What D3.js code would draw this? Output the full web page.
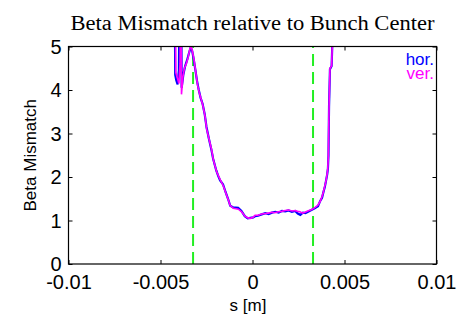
<!DOCTYPE html>
<html><head><meta charset="utf-8">
<script src="https://cdn.jsdelivr.net/npm/d3@7"></script>
<style>body{margin:0;background:#fff}svg{display:block}</style>
</head><body>
<svg id="c" width="469" height="321"></svg>
<script>
const title = "Beta Mismatch relative to Bunch Center";
const xLabel = "s [m]";
const yLabel = "Beta Mismatch";
const xTicks = [-0.01, -0.005, 0, 0.005, 0.01];
const xTickLabels = ["-0.01", "-0.005", "0", "0.005", "0.01"];
const yTicks = [0, 1, 2, 3, 4, 5];
const seriesNames = ["hor.", "ver."];
const markerPositions = [-0.00323, 0.00329];

const horS = [-0.00424,-0.00420,-0.00414,-0.00407,-0.00400,-0.00395,-0.00388,-0.00385,-0.00376,-0.00366,-0.00356,-0.00345,-0.00336,-0.00328,-0.00320,-0.00310,-0.00302,-0.00292,-0.00282,-0.00271,-0.00260,-0.00250,-0.00237,-0.00224,-0.00214,-0.00197,-0.00186,-0.00176,-0.00160,-0.00146,-0.00133,-0.00121,-0.00105,-0.00078,-0.00060,-0.00042,-0.00026,-0.00012,0.00004,0.00015,0.0003,0.0005,0.0007,0.00088,0.00106,0.00124,0.00142,0.0016,0.00178,0.00196,0.00214,0.00232,0.00246,0.0026,0.00274,0.00288,0.00302,0.0032,0.00338,0.00356,0.00368,0.00378,0.00386,0.00393,0.00399,0.00406,0.0041,0.00413,0.00416,0.00421,0.0043,0.00435,0.0044];
const horB = [7,4.35,4.22,4.13,4.45,7,7,4.05,4.35,4.55,4.68,4.85,4.98,4.9,4.72,4.45,4.22,4.0,3.82,3.68,3.45,3.15,2.88,2.64,2.42,2.15,2.02,1.92,1.83,1.65,1.5,1.34,1.3,1.29,1.22,1.1,1.05,1.06,1.07,1.1,1.11,1.14,1.17,1.15,1.18,1.2,1.18,1.22,1.21,1.23,1.2,1.22,1.16,1.13,1.18,1.17,1.2,1.24,1.28,1.33,1.45,1.52,1.66,1.77,1.9,2.06,2.2,2.5,3.62,4.48,4.55,5.2,7];

const verS = [-0.00422,-0.00417,-0.00410,-0.00400,-0.00394,-0.00389,-0.00386,-0.00378,-0.00370,-0.00360,-0.00350,-0.00340,-0.00332,-0.00325,-0.00318,-0.00308,-0.00300,-0.00290,-0.00280,-0.00270,-0.00258,-0.00249,-0.00235,-0.00222,-0.00213,-0.00195,-0.00177,-0.00159,-0.00144,-0.00132,-0.00122,-0.00104,-0.00090,-0.00077,-0.00059,-0.00041,-0.00025,-0.00010,0.00005,0.00014,0.00030,0.00050,0.00070,0.00086,0.00105,0.00122,0.00140,0.00159,0.00178,0.00195,0.00215,0.00231,0.00245,0.00258,0.00272,0.00285,0.00300,0.00322,0.00340,0.00355,0.00367,0.00378,0.00385,0.00392,0.00398,0.00405,0.00409,0.00412,0.00416,0.00421,0.0043,0.00434,0.0044];
const verB = [7,4.4,4.3,4.15,4.6,7,3.9,4.3,4.5,4.6,4.75,4.95,5.0,4.85,4.7,4.4,4.15,3.95,3.8,3.65,3.4,3.1,2.85,2.62,2.4,2.12,1.95,1.8,1.62,1.48,1.35,1.28,1.27,1.26,1.2,1.1,1.06,1.05,1.08,1.12,1.12,1.15,1.16,1.17,1.19,1.18,1.2,1.21,1.23,1.24,1.22,1.23,1.21,1.2,1.17,1.19,1.22,1.25,1.3,1.35,1.43,1.55,1.65,1.78,1.88,2.05,2.18,2.45,3.62,4.5,4.55,5.1,7];

const L = 68.5, R = 436.5, T = 46.5, B = 264;
const svg = d3.select("#c");
const x = d3.scaleLinear().domain([-0.01, 0.01]).range([L, R]);
const y = d3.scaleLinear().domain([0, 5]).range([B, T]);

svg.append("defs").append("clipPath").attr("id","clip")
  .append("rect").attr("x",L).attr("y",T).attr("width",R-L).attr("height",B-T);

svg.append("text").attr("x",(L+R)/2).attr("y",30).attr("text-anchor","middle")
  .attr("font-family","Liberation Serif, Times New Roman, serif").attr("font-size",20)
  .attr("textLength",364).attr("lengthAdjust","spacingAndGlyphs")
  .attr("fill","#000").text(title);

const g = svg.append("g").attr("clip-path","url(#clip)");
const line = d3.line().x(d=>x(d[0])).y(d=>y(d[1]));

markerPositions.forEach(m=>{
  g.append("line").attr("x1",x(m)).attr("x2",x(m)).attr("y1",y(0)).attr("y2",y(5))
   .attr("stroke","#22ee22").attr("stroke-width",2).attr("stroke-dasharray","12,6");
});

g.append("path").datum(d3.zip(horS,horB)).attr("d",line)
 .attr("fill","none").attr("stroke","#0000ff").attr("stroke-width",2.2);
g.append("path").datum(d3.zip(verS,verB)).attr("d",line)
 .attr("fill","none").attr("stroke","#ff00ff").attr("stroke-width",1.6);

const ax = svg.append("g");
ax.append("rect").attr("x",L).attr("y",T).attr("width",R-L).attr("height",B-T)
  .attr("fill","none").attr("stroke","#000").attr("stroke-width",1.2);

const xb = d3.axisBottom(x).tickValues(xTicks).tickSize(-4).tickFormat((d,i)=>xTickLabels[i]);
const xt = d3.axisTop(x).tickValues(xTicks).tickSize(-4).tickFormat("");
const yl = d3.axisLeft(y).tickValues(yTicks).tickSize(-4).tickFormat(d3.format("d"));
const yr = d3.axisRight(y).tickValues(yTicks).tickSize(-4).tickFormat("");

function style(sel){
  sel.select(".domain").remove();
  sel.selectAll(".tick line").attr("stroke","#000");
  sel.selectAll("text").attr("fill","#000").attr("font-family","Liberation Sans, Arial, sans-serif").attr("font-size",20);
}
svg.append("g").attr("transform",`translate(0,${B})`).call(xb).call(style)
  .selectAll("text").attr("y",11).attr("dy","0.71em");
svg.append("g").attr("transform",`translate(0,${T})`).call(xt).call(style);
svg.append("g").attr("transform",`translate(${L},0)`).call(yl).call(style)
  .selectAll("text").attr("x",-7).attr("dy","0.33em");
svg.append("g").attr("transform",`translate(${R},0)`).call(yr).call(style);

svg.append("text").attr("x",248).attr("y",311).attr("text-anchor","middle")
  .attr("font-family","Liberation Sans, Arial, sans-serif").attr("font-size",17).text(xLabel);
svg.append("text").attr("transform",`translate(36,${(T+B)/2}) rotate(-90)`).attr("text-anchor","middle")
  .attr("font-family","Liberation Sans, Arial, sans-serif").attr("font-size",17).text(yLabel);

const colors = ["#0000ff","#ff00ff"];
seriesNames.forEach((n,i)=>{
  svg.append("text").attr("x",434).attr("y",64.5+i*14).attr("text-anchor","end")
    .attr("font-family","Liberation Sans, Arial, sans-serif").attr("font-size",17)
    .attr("fill",colors[i]).text(n);
});
</script>
</body></html>
